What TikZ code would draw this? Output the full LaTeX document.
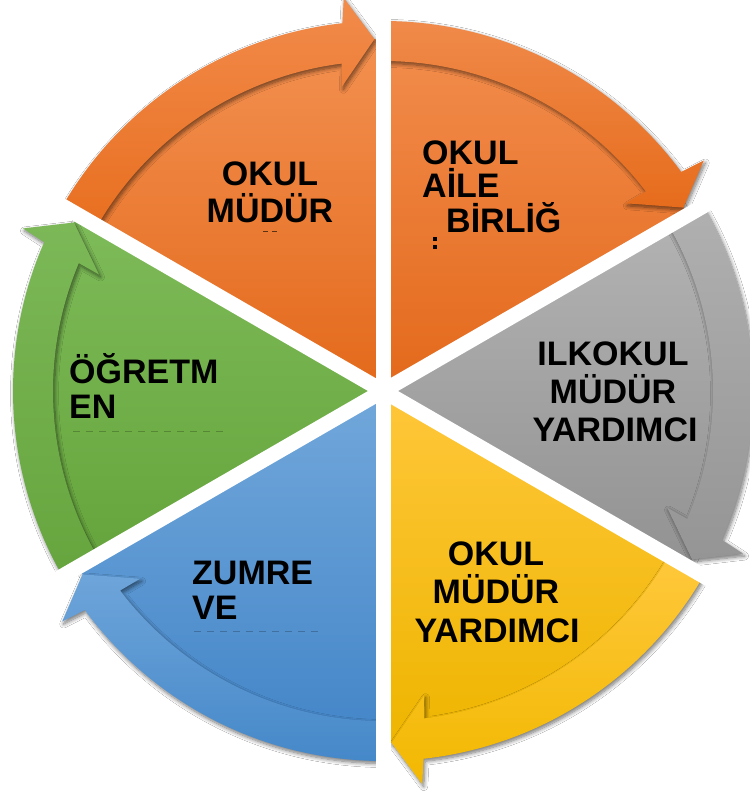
\documentclass[tikz,border=0pt]{standalone}
\usepackage{fontspec}
\setmainfont{Liberation Sans}
\usetikzlibrary{shadows.blur}
\definecolor{oAt}{HTML}{F39050}\definecolor{oAb}{HTML}{E3691B}
\definecolor{oAbt}{HTML}{F28B4B}\definecolor{oAbb}{HTML}{E86F20}
\definecolor{oBt}{HTML}{F28C4C}\definecolor{oBb}{HTML}{E3691B}
\definecolor{oBbt}{HTML}{F08A4A}\definecolor{oBbb}{HTML}{E66C1C}
\definecolor{grt}{HTML}{B3B3B3}\definecolor{grb}{HTML}{929292}
\definecolor{grbt}{HTML}{B0B0B0}\definecolor{grbb}{HTML}{959595}
\definecolor{yet}{HTML}{FFC73A}\definecolor{yeb}{HTML}{EEB500}
\definecolor{yebt}{HTML}{FFC83C}\definecolor{yebb}{HTML}{F2B800}
\definecolor{blt}{HTML}{72A8DB}\definecolor{blb}{HTML}{4385C8}
\definecolor{blbt}{HTML}{6EA5DA}\definecolor{blbb}{HTML}{4588C9}
\definecolor{gnt}{HTML}{7EBB59}\definecolor{gnb}{HTML}{65A43C}
\definecolor{gnbt}{HTML}{7CB857}\definecolor{gnbb}{HTML}{66A53E}
\newcommand{\mysector}[5]{%
  \pgfmathsetmacro{\bA}{#1-60}%
  \pgfmathsetmacro{\hO}{\bA+5.7}%
  \pgfmathsetmacro{\hOb}{\bA+6.3}%
  \pgfmathsetmacro{\hT}{\bA+1.4}%
  \pgfmathsetmacro{\hI}{\bA+7.7}%
  \pgfmathsetmacro{\hIb}{\bA+7.2}%
  \shade[top color=#2, bottom color=#3, wedgeshadow] (0,0) -- (#1:352) arc[start angle=#1, end angle=\bA, radius=352] -- cycle;
  \shade[top color=#4, bottom color=#5, bandshadow] (#1:370) arc[start angle=#1, end angle=\hOb, radius=370] -- (\hO:395) -- (\hT:352) -- (\hI:307) -- (\hIb:330) arc[start angle=\hIb, end angle=#1, radius=330] -- cycle;
}
\begin{document}
\begin{tikzpicture}[x=1pt,y=1pt,
  lbl/.style={font=\fontsize{34}{38}\selectfont\bfseries, inner sep=0pt, text=black},
  bandshadow/.style={blur shadow={shadow xshift=1.5pt, shadow yshift=-2.5pt, shadow blur radius=4pt, shadow blur steps=8, shadow opacity=55}},
  wedgeshadow/.style={blur shadow={shadow xshift=1pt, shadow yshift=-2pt, shadow blur radius=4pt, shadow blur steps=6, shadow opacity=25}},
  gapline/.style={white, line width=15pt},
  faint/.style={black, opacity=0.22, line width=1pt, dash pattern=on 7pt off 6pt}
  ]
\useasboundingbox (0,-791) rectangle (749,0);
\fill[white] (0,-791) rectangle (749,0);

\begin{scope}[shift={(383,-391)}]
  \mysector{150}{oAt}{oAb}{oAbt}{oAbb}
  \mysector{90}{oBt}{oBb}{oBbt}{oBbb}
  \mysector{30}{grt}{grb}{grbt}{grbb}
  \mysector{-30}{yet}{yeb}{yebt}{yebb}
  \mysector{-90}{blt}{blb}{blbt}{blbb}
  \mysector{-150}{gnt}{gnb}{gnbt}{gnbb}
  \foreach \t/\n in {90/ga,30/gb,-30/gc,-90/gd,-150/ge,150/gf}{
    \coordinate (\n) at (\t:420);
    \coordinate (c\n) at (0,0);
    \draw[gapline] (c\n) -- (\n);
  }
\end{scope}

% top-left orange
\node[lbl, anchor=base] (tla) at (270,-186) {OKUL};
\node[lbl, anchor=base] (tlb) at (270,-223) {MÜDÜR};
\coordinate (tld1) at (263,-231);
\coordinate (tld2) at (268,-231);
\coordinate (tld3) at (272,-231);
\coordinate (tld4) at (277,-231);
\draw[black, opacity=0.6, line width=0.8pt] (tld1) -- (tld2) (tld3) -- (tld4);

% top-right orange
\node[lbl, anchor=base west] (tra) at (422,-165) {OKUL};
\node[lbl, anchor=base west] (trb) at (422,-198) {AİLE};
\node[lbl, anchor=base west] (trc) at (446,-233) {BİRLİĞ};
\coordinate (trs1) at (433,-237);
\coordinate (trs2) at (433,-245);
\fill[black] (trs1) rectangle ++(4,-4);
\fill[black] (trs2) rectangle ++(4,-4);

% gray
\node[lbl, anchor=base] (gra) at (613,-365) {ILKOKUL};
\node[lbl, anchor=base] (grbn) at (613,-403) {MÜDÜR};
\node[lbl, anchor=base] (grc) at (615,-441) {YARDIMCI};

% yellow
\node[lbl, anchor=base] (yea) at (496,-565) {OKUL};
\node[lbl, anchor=base] (yebn) at (496,-603) {MÜDÜR};
\node[lbl, anchor=base] (yec) at (497,-642) {YARDIMCI};

% blue
\node[lbl, anchor=base west] (bla) at (192,-584) {ZUMRE};
\node[lbl, anchor=base west] (blbn) at (192,-619) {VE};
\coordinate (bld1) at (194,-631);
\coordinate (bld2) at (320,-631);
\draw[faint] (bld1) -- (bld2);

% green
\node[lbl, anchor=base west] (gna) at (69,-383) {ÖĞRETM};
\node[lbl, anchor=base west] (gnbn) at (69,-418) {EN};
\coordinate (gnd1) at (73,-431);
\coordinate (gnd2) at (228,-431);
\draw[faint] (gnd1) -- (gnd2);
\end{tikzpicture}
\end{document}
